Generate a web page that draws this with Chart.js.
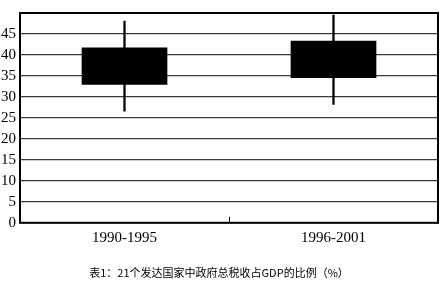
<!DOCTYPE html>
<html>
<head>
<meta charset="utf-8">
<script src="https://cdn.jsdelivr.net/npm/chart.js@4"></script>
<style>
  body { margin: 0; background: #fff; }
  #wrap { width: 442px; height: 299px; }
</style>
</head>
<body>
<div id="wrap"><canvas id="c" width="442" height="299"></canvas></div>
<script>
// periods and the box values (percent of GDP)
const periods = ["1990-1995", "1996-2001"];
const boxLow = [32.9, 34.5];
const boxHigh = [41.8, 43.4];
const whiskerLow = [26.6, 28.2];
const whiskerHigh = [48.1, 49.5];
const yTicks = [0, 5, 10, 15, 20, 25, 30, 35, 40, 45];
const caption = "表1：21个发达国家中政府总税收占GDP的比例（%）";

// frame round the plot + little tick between the two periods
const framePlugin = {
  id: 'frame',
  afterDatasetsDraw(chart) {
    const { ctx, chartArea: a, scales } = chart;
    ctx.save();
    ctx.strokeStyle = '#000';
    ctx.lineWidth = 2;
    ctx.strokeRect(a.left, a.top, a.right - a.left, a.bottom - a.top);
    const mx = Math.round(scales.x.getPixelForValue(0.5)) + 0.5;
    ctx.lineWidth = 1;
    ctx.beginPath();
    ctx.moveTo(mx, scales.y.getPixelForValue(0));
    ctx.lineTo(mx, scales.y.getPixelForValue(1.4));
    ctx.stroke();
    ctx.restore();
  }
};

new Chart(document.getElementById('c'), {
  type: 'bar',
  data: {
    labels: periods,
    datasets: [
      {
        data: whiskerLow.map((v, i) => [v, whiskerHigh[i]]),
        backgroundColor: '#000',
        barThickness: 1.6,
        grouped: false
      },
      {
        data: boxLow.map((v, i) => [v, boxHigh[i]]),
        backgroundColor: '#000',
        barPercentage: 0.41,
        categoryPercentage: 1,
        grouped: false
      }
    ]
  },
  options: {
    responsive: false,
    animation: false,
    layout: { padding: { top: 7, right: 4, left: 0, bottom: 0 } },
    plugins: {
      legend: { display: false },
      tooltip: { enabled: false },
      title: {
        display: true,
        text: caption,
        position: 'bottom',
        color: '#000',
        font: { family: "'Noto Sans CJK SC'", size: 11, weight: 'normal' },
        padding: { top: 0, bottom: 20 }
      }
    },
    scales: {
      x: {
        grid: { display: false },
        border: { display: false },
        ticks: { color: '#000', padding: -2, font: { family: "'Liberation Serif'", size: 15 } },
        afterFit(s) { s.height = 43; }
      },
      y: {
        min: 0,
        max: 50,
        afterBuildTicks(s) { s.ticks = yTicks.concat([50]).map(v => ({ value: v })); },
        grid: { color: '#3a3a3a', lineWidth: 1.2, drawTicks: false },
        border: { display: false },
        ticks: {
          color: '#000',
          padding: 4,
          autoSkip: false,
          font: { family: "'Liberation Serif'", size: 15 },
          callback: v => (yTicks.includes(v) ? v : '')
        },
        afterFit(s) { s.width = 20; }
      }
    }
  },
  plugins: [framePlugin]
});
</script>
</body>
</html>
